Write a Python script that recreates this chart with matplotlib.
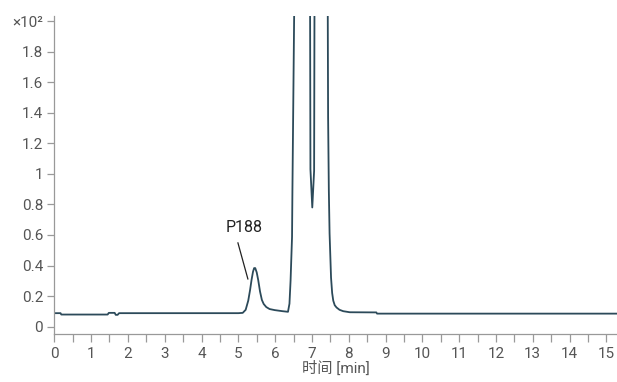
import matplotlib
matplotlib.use("Agg")
import matplotlib.pyplot as plt
from matplotlib.ticker import MultipleLocator

plt.rcParams['font.family'] = ['Roboto', 'Noto Sans CJK SC', 'DejaVu Sans']

# chromatogram trace (y in units of x10^2)
t = [0.00, 0.17, 0.19, 1.45, 1.48, 1.64, 1.67, 1.72, 1.76, 1.80, 5.00, 5.12,
     5.20, 5.27, 5.32, 5.36, 5.40, 5.43, 5.46, 5.50, 5.54, 5.59, 5.64, 5.69,
     5.76, 5.85, 5.99, 6.20, 6.35, 6.39, 6.42, 6.46, 6.47, 6.49, 6.52, 6.60,
     6.80, 6.94, 6.95, 6.96, 7.01, 7.06, 7.07, 7.08, 7.20, 7.40, 7.43, 7.44,
     7.46, 7.48, 7.52, 7.55, 7.58, 7.62, 7.67, 7.75, 7.85, 8.03, 8.75, 8.77,
     15.30]
signal = [0.088, 0.088, 0.079, 0.079, 0.090, 0.090, 0.077, 0.077, 0.088, 0.088,
          0.088, 0.090, 0.110, 0.170, 0.240, 0.306, 0.360, 0.383, 0.383, 0.355,
          0.306, 0.230, 0.175, 0.148, 0.128, 0.115, 0.108, 0.101, 0.097, 0.150,
          0.300, 0.587, 0.880, 1.370, 2.100, 3.000, 3.400, 2.600, 2.100, 1.030,
          0.780, 1.020, 2.100, 2.600, 3.300, 3.000, 2.100, 1.370, 0.890, 0.610,
          0.320, 0.220, 0.170, 0.140, 0.125, 0.110, 0.101, 0.094, 0.093, 0.085,
          0.085]

yticks = [0, 0.2, 0.4, 0.6, 0.8, 1.0, 1.2, 1.4, 1.6, 1.8, 2.0]
ytick_labels = ['0', '0.2', '0.4', '0.6', '0.8', '1', '1.2', '1.4', '1.6', '1.8', '×10²']

peak_name = 'P188'
label_xy = (5.15, 0.646)
leader = ([4.99, 5.26], [0.548, 0.312])

fig = plt.figure(figsize=(6.17, 3.82), dpi=100)
ax = fig.add_axes([0.088, 0.125, 0.912, 0.833])

ax.plot(t, signal, color='#2c4a5a', linewidth=1.3)
ax.plot(leader[0], leader[1], color='#222222', linewidth=0.9)
ax.text(label_xy[0], label_xy[1], peak_name, ha='center', va='center',
        fontsize=11.5, color='#222222')

ax.set_xlim(0, 15.29)
ax.set_ylim(-0.05, 2.033)
ax.xaxis.set_major_locator(MultipleLocator(1))
ax.xaxis.set_minor_locator(MultipleLocator(0.5))
ax.set_yticks(yticks)
ax.set_yticklabels(ytick_labels)

for s in ['top', 'right']:
    ax.spines[s].set_visible(False)
for s in ['left', 'bottom']:
    ax.spines[s].set_color('#999999')
    ax.spines[s].set_linewidth(0.9)

ax.tick_params(axis='both', which='both', color='#999999', labelcolor='#555555',
               labelsize=11, width=0.9)
ax.tick_params(axis='x', which='both', length=6, pad=3)
ax.tick_params(axis='y', length=5, pad=3)

ax.set_xlabel('时间 [min]', fontsize=11, color='#555555', labelpad=0)

fig.savefig('out.png', dpi=100)
